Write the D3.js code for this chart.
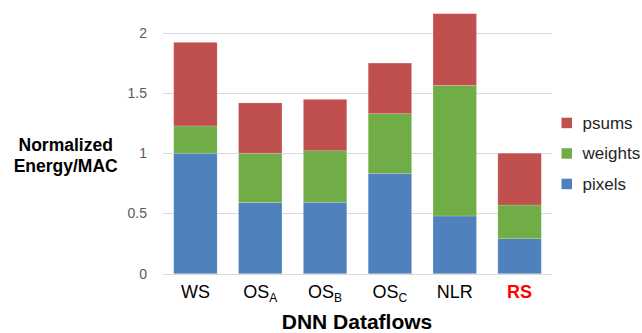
<!DOCTYPE html>
<html><head><meta charset="utf-8">
<script src="https://cdn.jsdelivr.net/npm/d3@7"></script>
<style>body{margin:0;background:#fff}svg{display:block;font-family:"Liberation Sans",Arial,sans-serif}</style>
</head><body><svg id="c" width="642" height="333"></svg>
<script>
const categories = ["WS","OSA","OSB","OSC","NLR","RS"];
const catMain = ["WS","OS","OS","OS","NLR","RS"];
const catSub = ["","A","B","C","",""];
const seriesNames = ["pixels","weights","psums"];
const pixels  = [1.00, 0.59, 0.593, 0.833, 0.479, 0.29];
const weights = [0.226, 0.41, 0.427, 0.495, 1.084, 0.28];
const psums   = [0.694, 0.417, 0.427, 0.42, 0.595, 0.43];
const colors = {pixels:"#4F81BD", weights:"#70AD47", psums:"#C0504D"};
const yTicks = [0,0.5,1,1.5,2];
const yTickLabels = ["0","0.5","1","1.5","2"];

(function(){
const svg = d3.select("#c");
const pl=163, pr=552, pt=32.7, pb=273.7;
const x = d3.scaleBand().domain(categories).range([pl,pr]).paddingInner(0.33).paddingOuter(0.165);
const y = d3.scaleLinear().domain([0,2]).range([pb,pt]);

const table = categories.map((c,i)=>({cat:c,pixels:pixels[i],weights:weights[i],psums:psums[i]}));
const stacked = d3.stack().keys(seriesNames)(table);

// gridlines
svg.append("g").selectAll("line").data(yTicks).join("line")
  .attr("x1",pl).attr("x2",pr)
  .attr("y1",d=>Math.round(y(d))+0.5).attr("y2",d=>Math.round(y(d))+0.5)
  .attr("stroke","#D9D9D9").attr("stroke-width",1);

// y axis labels
const yAxis = d3.axisLeft(y).tickValues(yTicks).tickFormat((d,i)=>yTickLabels[i]).tickSize(0).tickPadding(0);
const ya = svg.append("g").attr("transform",`translate(147,0)`).call(yAxis);
ya.select(".domain").remove();
ya.selectAll("text").attr("font-size",14).attr("fill","#595959").attr("font-family","Liberation Sans, Arial, sans-serif");

// bars
svg.append("g").selectAll("g").data(stacked).join("g")
  .attr("fill",d=>colors[d.key])
  .selectAll("rect").data(d=>d).join("rect")
  .attr("x",d=>x(d.data.cat)).attr("width",x.bandwidth())
  .attr("y",d=>y(d[1])).attr("height",d=>y(d[0])-y(d[1]))
  .attr("stroke","#fff").attr("stroke-opacity",0.35).attr("stroke-width",0.5);

// x axis labels
const xa = svg.append("g");
categories.forEach((c,i)=>{
  const t = xa.append("text").attr("x",x(c)+x.bandwidth()/2).attr("y",298)
    .attr("text-anchor","middle").attr("font-size",18)
    .attr("fill", c==="RS" ? "#FF0000" : "#000")
    .attr("font-weight", c==="RS" ? "bold" : "normal");
  t.append("tspan").text(catMain[i]);
  if (catSub[i]) t.append("tspan").text(catSub[i]).attr("font-size",12).attr("dy",4);
});

// x title
svg.append("text").attr("x",357).attr("y",328.5).attr("text-anchor","middle")
  .attr("font-size",21).attr("font-weight","bold").attr("fill","#000").text("DNN Dataflows");

// y title
const yt = svg.append("text").attr("text-anchor","middle").attr("font-size",17.5).attr("font-weight","bold").attr("fill","#000");
yt.append("tspan").attr("x",65.7).attr("y",151).text("Normalized");
yt.append("tspan").attr("x",65.7).attr("y",172).text("Energy/MAC");

// legend
const legendOrder = ["psums","weights","pixels"];
const lg = svg.append("g").selectAll("g").data(legendOrder).join("g")
  .attr("transform",(d,i)=>`translate(561.5,${117.7+i*30.5})`);
lg.append("rect").attr("width",10.5).attr("height",10.5).attr("fill",d=>colors[d]);
lg.append("text").attr("x",21).attr("y",5.2).attr("dy","0.35em").attr("font-size",17).attr("fill","#262626").text(d=>d);
})();
</script></body></html>
